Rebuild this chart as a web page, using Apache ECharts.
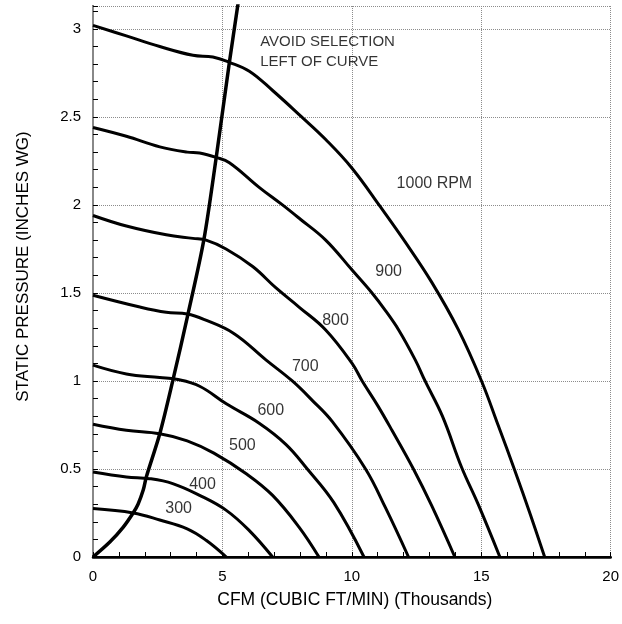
<!DOCTYPE html>
<html><head><meta charset="utf-8">
<script src="https://cdn.jsdelivr.net/npm/echarts@6/dist/echarts.min.js"></script>
<style>html,body{margin:0;padding:0;background:#fff}#c{width:622px;height:624px}</style>
</head><body><div id="c"></div>
<script>
// Fan curves: [CFM (thousands), static pressure (in. WG)]
const rpm1000 = [[0,3.02],[1.29,2.96],[2.58,2.9],[3.86,2.85],[4.63,2.84],[5.27,2.81],[6.04,2.76],[6.94,2.65],[8.06,2.5],[9.0,2.37],[10.0,2.21],[11.1,1.99],[12.06,1.79],[13.09,1.56],[14.12,1.29],[15.01,1.0],[15.65,0.75],[16.3,0.49],[16.9,0.24],[17.45,0]];
const rpm900 = [[0,2.44],[1.29,2.39],[2.58,2.33],[3.64,2.3],[4.12,2.295],[4.76,2.27],[5.27,2.24],[6.42,2.1],[7.32,2.0],[8.0,1.92],[8.99,1.8],[10.01,1.63],[10.78,1.5],[11.3,1.4],[11.81,1.29],[12.45,1.12],[12.83,1.0],[13.5,0.8],[14.24,0.51],[14.88,0.3],[15.72,0]];
const rpm800 = [[0,1.94],[1.29,1.88],[2.83,1.83],[3.86,1.81],[4.37,1.8],[5.14,1.75],[6.17,1.65],[7.06,1.53],[7.96,1.42],[8.99,1.29],[10.01,1.1],[10.4,1.0],[11.0,0.86],[11.55,0.72],[12.38,0.5],[13.09,0.29],[13.98,0]];
const rpm700 = [[0,1.487],[1.81,1.42],[2.83,1.39],[3.64,1.38],[4.28,1.35],[5.44,1.27],[6.68,1.12],[7.7,1.0],[8.47,0.89],[9.24,0.77],[10.53,0.5],[11.3,0.28],[12.19,0]];
const rpm600 = [[0,1.09],[1.29,1.04],[2.58,1.02],[3.22,1.01],[4.12,0.97],[5.15,0.87],[6.42,0.76],[7.45,0.64],[8.28,0.5],[9.3,0.31],[10.47,0]];
const rpm500 = [[0,0.754],[1.29,0.72],[2.58,0.7],[3.64,0.66],[4.67,0.59],[5.95,0.47],[6.94,0.35],[7.96,0.17],[8.73,0]];
const rpm400 = [[0,0.483],[1.29,0.455],[2.19,0.445],[3.08,0.417],[4.12,0.35],[5.15,0.265],[6.04,0.15],[6.94,0]];
const rpm300 = [[0,0.275],[1.55,0.25],[2.58,0.21],[3.64,0.16],[4.37,0.095],[5.15,0]];
const avoidCurve = [[0,0],[0.65,0.085],[1.17,0.17],[1.55,0.25],[1.74,0.3],[1.94,0.38],[2.06,0.455],[2.58,0.7],[3.08,1.0],[3.67,1.38],[4.28,1.8],[4.76,2.27],[5.27,2.81],[5.62,3.16]];

const curveLabels = ['1000 RPM','900','800','700','600','500','400','300'];
const curveLabelPos = [[13.19,2.12],[11.42,1.62],[9.37,1.345],[8.2,1.08],[6.87,0.83],[5.77,0.635],[4.23,0.413],[3.31,0.275]];
const noteLines = ['AVOID SELECTION','LEFT OF CURVE'];
const notePos = [[6.46,2.925],[6.46,2.81]];

const xMin = 0, xMax = 20, xStep = 5;
const yMin = 0, yMax = 3.13, yStep = 0.5;

const FONT = 'Liberation Sans, Arial, sans-serif';
const curves = [rpm1000, rpm900, rpm800, rpm700, rpm600, rpm500, rpm400, rpm300];

const chart = echarts.init(document.getElementById('c'));
const lineSeries = curves.map((d, i) => ({
  type: 'line', data: d, showSymbol: false, smooth: 0.4,
  lineStyle: { color: '#000', width: 3 }, clip: true, z: 3, silent: true
}));
lineSeries.push({
  type: 'line', data: avoidCurve, showSymbol: false, smooth: 0.3,
  lineStyle: { color: '#000', width: 3.5 }, clip: true, z: 4, silent: true
});
lineSeries.push({
  type: 'scatter', symbolSize: 0, silent: true, z: 5,
  data: curveLabels.map((n, i) => ({ name: n, value: curveLabelPos[i] })),
  label: { show: true, position: 'inside', formatter: '{b}', fontFamily: FONT, fontSize: 16, color: '#000' }
});
lineSeries.push({
  type: 'scatter', symbolSize: 0, silent: true, z: 5,
  data: noteLines.map((n, i) => ({ name: n, value: notePos[i] })),
  label: { show: true, position: 'inside', align: 'left', formatter: '{b}', fontFamily: FONT, fontSize: 15, color: '#000' }
});

const dotted = { show: true, lineStyle: { type: 'dotted', color: '#8c8c8c', width: 1 } };

chart.setOption({
  animation: false,
  backgroundColor: '#fff',
  grid: { left: 93, right: 10, top: 6, bottom: 67 },
  xAxis: [
    { type: 'value', min: xMin, max: xMax, interval: xStep, position: 'bottom',
      axisLine: { show: true, lineStyle: { color: '#000', width: 2 } },
      axisTick: { show: false }, splitLine: dotted,
      axisLabel: { fontFamily: FONT, fontSize: 15, color: '#000', margin: 12 },
      name: 'CFM (CUBIC FT/MIN) (Thousands)', nameLocation: 'middle', nameGap: 34,
      nameTextStyle: { fontFamily: FONT, fontSize: 17.5, color: '#000', padding: [0, 0, 0, 6] } },
    { type: 'value', min: xMin, max: xMax, interval: xStep, position: 'top',
      axisLine: { show: true, lineStyle: { color: '#000', width: 2.5 } },
      axisTick: { show: false }, axisLabel: { show: false }, splitLine: { show: false } },
    { type: 'value', min: xMin, max: xMax, interval: 1, position: 'bottom',
      axisLine: { show: false }, axisTick: { show: true, inside: true, length: 5, lineStyle: { color: '#000', width: 1 } },
      axisLabel: { show: false }, splitLine: { show: false } }
  ],
  yAxis: [
    { type: 'value', min: yMin, max: yMax, interval: yStep, position: 'left',
      axisLine: { show: true, lineStyle: { color: '#000', width: 2 } },
      axisTick: { show: false }, splitLine: dotted,
      axisLabel: { fontFamily: FONT, fontSize: 15, color: '#000', margin: 12, showMaxLabel: false },
      name: 'STATIC PRESSURE (INCHES WG)', nameLocation: 'middle', nameGap: 61,
      nameTextStyle: { fontFamily: FONT, fontSize: 17, color: '#000', padding: [0, 0, 0, 30] } },
    { type: 'value', min: yMin, max: yMax, interval: 0.1, position: 'left',
      axisLine: { show: false }, axisTick: { show: true, inside: true, length: 5, lineStyle: { color: '#000', width: 1 } },
      axisLabel: { show: false }, splitLine: { show: false } },
    { type: 'value', min: yMin, max: yMax, position: 'right',
      axisLine: { show: true, lineStyle: { color: '#888', width: 2 } },
      axisTick: { show: false }, axisLabel: { show: false }, splitLine: { show: false } }
  ],
  series: lineSeries
});
</script></body></html>
